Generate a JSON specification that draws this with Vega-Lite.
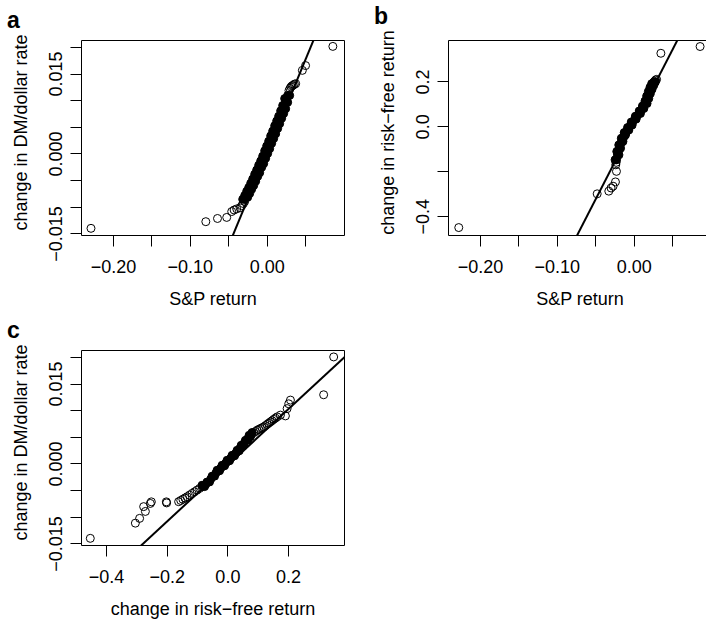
{
  "$schema": "https://vega.github.io/schema/vega-lite/v6.json",
  "padding": {"left": 6, "top": 5, "right": 0, "bottom": 0},
  "background": "white",
  "config": {
    "font": "Liberation Sans",
    "view": {"stroke": "black", "strokeWidth": 1},
    "axis": {
      "domain": false, "grid": false, "ticks": true, "tickColor": "black", "tickSize": 11, "tickWidth": 1,
      "labelColor": "black", "labelFontSize": 18, "labelFont": "Liberation Sans", "labelOverlap": false, "labelFlush": false,
      "titleColor": "black", "titleFontSize": 18, "titleFontWeight": "normal", "titleFont": "Liberation Sans"
    },
    "axisX": {"labelBaseline": "alphabetic", "labelPadding": 26, "titleBaseline": "alphabetic", "titleY": 69},
    "axisY": {"labelAngle": -90, "labelAlign": "center", "labelBaseline": "alphabetic", "labelPadding": 9, "titleAngle": -90, "titleBaseline": "alphabetic", "titleX": -55, "titleY": 92},
    "title": {"anchor": "start", "frame": "group", "dx": -74, "fontSize": 23, "fontWeight": "bold", "offset": 1, "color": "black"}
  },
  "datasets": {
    "qa_ring": [
      {"x": -0.2286, "y": -0.01405}, {"x": -0.0792, "y": -0.0128}, {"x": -0.0640, "y": -0.0122}, {"x": -0.0520, "y": -0.0120},
      {"x": -0.0455, "y": -0.0109}, {"x": -0.0424, "y": -0.0106}, {"x": -0.0390, "y": -0.0104}, {"x": -0.0346, "y": -0.0102},
      {"x": -0.0325, "y": -0.0098}, {"x": -0.0303, "y": -0.0094}, {"x": -0.0286, "y": -0.0090},
      {"x": 0.0290, "y": 0.0118}, {"x": 0.0303, "y": 0.0122}, {"x": 0.0316, "y": 0.0125}, {"x": 0.0330, "y": 0.0127},
      {"x": 0.0345, "y": 0.0128}, {"x": 0.0360, "y": 0.0130}, {"x": 0.0377, "y": 0.0131},
      {"x": 0.0464, "y": 0.0156}, {"x": 0.0506, "y": 0.0165}, {"x": 0.0861, "y": 0.0201}
    ],
    "qa_band": [
      {"x": -0.0312, "y": -0.0086}, {"x": -0.0247, "y": -0.0082}, {"x": -0.0286, "y": -0.0079}, {"x": -0.0221, "y": -0.0075},
      {"x": -0.0260, "y": -0.0071}, {"x": -0.0195, "y": -0.0067}, {"x": -0.0234, "y": -0.0064}, {"x": -0.0169, "y": -0.0060},
      {"x": -0.0208, "y": -0.0056}, {"x": -0.0143, "y": -0.0052}, {"x": -0.0182, "y": -0.0048}, {"x": -0.0117, "y": -0.0043},
      {"x": -0.0156, "y": -0.0039}, {"x": -0.0091, "y": -0.0036}, {"x": -0.0130, "y": -0.0031}, {"x": -0.0065, "y": -0.0026},
      {"x": -0.0104, "y": -0.0022}, {"x": -0.0039, "y": -0.0019}, {"x": -0.0078, "y": -0.0014}, {"x": -0.0013, "y": -0.0009},
      {"x": -0.0052, "y": -0.0005}, {"x": 0.0013, "y": 0.0000}, {"x": -0.0026, "y": 0.0005}, {"x": 0.0039, "y": 0.0009},
      {"x": 0.0000, "y": 0.0014}, {"x": 0.0065, "y": 0.0019}, {"x": 0.0026, "y": 0.0023}, {"x": 0.0091, "y": 0.0028},
      {"x": 0.0052, "y": 0.0033}, {"x": 0.0117, "y": 0.0037}, {"x": 0.0078, "y": 0.0042}, {"x": 0.0143, "y": 0.0047},
      {"x": 0.0104, "y": 0.0052}, {"x": 0.0169, "y": 0.0056}, {"x": 0.0130, "y": 0.0061}, {"x": 0.0195, "y": 0.0066},
      {"x": 0.0156, "y": 0.0070}, {"x": 0.0221, "y": 0.0075}, {"x": 0.0182, "y": 0.0080}, {"x": 0.0247, "y": 0.0084},
      {"x": 0.0208, "y": 0.0090}, {"x": 0.0273, "y": 0.0096}, {"x": 0.0234, "y": 0.0103}, {"x": 0.0299, "y": 0.0109},
      {"x": -0.0286, "y": -0.0086}, {"x": -0.0273, "y": -0.0082}, {"x": -0.0260, "y": -0.0079}, {"x": -0.0247, "y": -0.0075},
      {"x": -0.0234, "y": -0.0071}, {"x": -0.0221, "y": -0.0067}, {"x": -0.0208, "y": -0.0064}, {"x": -0.0195, "y": -0.0060},
      {"x": -0.0182, "y": -0.0056}, {"x": -0.0169, "y": -0.0052}, {"x": -0.0156, "y": -0.0048}, {"x": -0.0143, "y": -0.0043},
      {"x": -0.0130, "y": -0.0039}, {"x": -0.0117, "y": -0.0036}, {"x": -0.0104, "y": -0.0031}, {"x": -0.0091, "y": -0.0026},
      {"x": -0.0078, "y": -0.0022}, {"x": -0.0065, "y": -0.0019}, {"x": -0.0052, "y": -0.0014}, {"x": -0.0039, "y": -0.0009},
      {"x": -0.0026, "y": -0.0005}, {"x": -0.0013, "y": 0.0000}, {"x": 0.0000, "y": 0.0005}, {"x": 0.0013, "y": 0.0009},
      {"x": 0.0026, "y": 0.0014}, {"x": 0.0039, "y": 0.0019}, {"x": 0.0052, "y": 0.0023}, {"x": 0.0065, "y": 0.0028},
      {"x": 0.0078, "y": 0.0033}, {"x": 0.0091, "y": 0.0037}, {"x": 0.0104, "y": 0.0042}, {"x": 0.0117, "y": 0.0047},
      {"x": 0.0130, "y": 0.0052}, {"x": 0.0143, "y": 0.0056}, {"x": 0.0156, "y": 0.0061}, {"x": 0.0169, "y": 0.0066},
      {"x": 0.0182, "y": 0.0070}, {"x": 0.0195, "y": 0.0075}, {"x": 0.0208, "y": 0.0080}, {"x": 0.0221, "y": 0.0084},
      {"x": 0.0234, "y": 0.0090}, {"x": 0.0247, "y": 0.0096}, {"x": 0.0260, "y": 0.0103}, {"x": 0.0273, "y": 0.0109}
    ],
    "la": [{"x": -0.3, "y": -0.1047}, {"x": 0.2, "y": 0.0698}],
    "qb_ring": [
      {"x": -0.2276, "y": -0.450}, {"x": -0.0475, "y": -0.300}, {"x": -0.0324, "y": -0.288}, {"x": -0.0294, "y": -0.274},
      {"x": -0.0268, "y": -0.266}, {"x": -0.0237, "y": -0.247}, {"x": -0.0224, "y": -0.200}, {"x": -0.0233, "y": -0.1709},
      {"x": -0.0228, "y": -0.160}, {"x": 0.0272, "y": 0.2000}, {"x": 0.0285, "y": 0.2060}, {"x": 0.0298, "y": 0.2088},
      {"x": 0.0354, "y": 0.325}, {"x": 0.0864, "y": 0.355}
    ],
    "qb_band": [
      {"x": -0.0242, "y": -0.1488}, {"x": -0.0192, "y": -0.1267}, {"x": -0.0220, "y": -0.1117}, {"x": -0.0171, "y": -0.0971},
      {"x": -0.0194, "y": -0.0826}, {"x": -0.0140, "y": -0.0675}, {"x": -0.0161, "y": -0.0530}, {"x": -0.0107, "y": -0.0384},
      {"x": -0.0123, "y": -0.0274}, {"x": -0.0063, "y": -0.0163}, {"x": -0.0080, "y": -0.0053}, {"x": -0.0020, "y": 0.0057},
      {"x": -0.0032, "y": 0.0190}, {"x": 0.0032, "y": 0.0322}, {"x": 0.0022, "y": 0.0450}, {"x": 0.0088, "y": 0.0574},
      {"x": 0.0072, "y": 0.0684}, {"x": 0.0132, "y": 0.0795}, {"x": 0.0114, "y": 0.0905}, {"x": 0.0174, "y": 0.1015},
      {"x": 0.0147, "y": 0.1126}, {"x": 0.0196, "y": 0.1236}, {"x": 0.0169, "y": 0.1347}, {"x": 0.0217, "y": 0.1457},
      {"x": 0.0191, "y": 0.1554}, {"x": 0.0239, "y": 0.1647}, {"x": 0.0212, "y": 0.1735}, {"x": 0.0261, "y": 0.1823},
      {"x": 0.0234, "y": 0.1898}, {"x": 0.0282, "y": 0.1973},
      {"x": -0.0223, "y": -0.1488}, {"x": -0.0211, "y": -0.1267}, {"x": -0.0201, "y": -0.1117}, {"x": -0.0190, "y": -0.0971},
      {"x": -0.0175, "y": -0.0826}, {"x": -0.0159, "y": -0.0675}, {"x": -0.0142, "y": -0.0530}, {"x": -0.0126, "y": -0.0384},
      {"x": -0.0104, "y": -0.0274}, {"x": -0.0082, "y": -0.0163}, {"x": -0.0061, "y": -0.0053}, {"x": -0.0039, "y": 0.0057},
      {"x": -0.0013, "y": 0.0190}, {"x": 0.0013, "y": 0.0322}, {"x": 0.0041, "y": 0.0450}, {"x": 0.0069, "y": 0.0574},
      {"x": 0.0091, "y": 0.0684}, {"x": 0.0113, "y": 0.0795}, {"x": 0.0133, "y": 0.0905}, {"x": 0.0155, "y": 0.1015},
      {"x": 0.0166, "y": 0.1126}, {"x": 0.0177, "y": 0.1236}, {"x": 0.0188, "y": 0.1347}, {"x": 0.0198, "y": 0.1457},
      {"x": 0.0210, "y": 0.1554}, {"x": 0.0220, "y": 0.1647}, {"x": 0.0231, "y": 0.1735}, {"x": 0.0242, "y": 0.1823},
      {"x": 0.0253, "y": 0.1898}, {"x": 0.0263, "y": 0.1973}
    ],
    "lb": [{"x": -0.1, "y": -0.66}, {"x": 0.08, "y": 0.537}],
    "qc_ring": [
      {"x": -0.4514, "y": -0.01405}, {"x": -0.303, "y": -0.0112}, {"x": -0.289, "y": -0.0103}, {"x": -0.270, "y": -0.0090},
      {"x": -0.2757, "y": -0.0081}, {"x": -0.2537, "y": -0.0075}, {"x": -0.2504, "y": -0.0072}, {"x": -0.2010, "y": -0.0072},
      {"x": -0.2000, "y": -0.0074},
      {"x": -0.1605, "y": -0.00717}, {"x": -0.1536, "y": -0.00694}, {"x": -0.1466, "y": -0.00671}, {"x": -0.1397, "y": -0.00648},
      {"x": -0.1328, "y": -0.00624}, {"x": -0.1245, "y": -0.00593}, {"x": -0.1163, "y": -0.00562}, {"x": -0.1081, "y": -0.00531},
      {"x": -0.0998, "y": -0.00500}, {"x": -0.0916, "y": -0.00468}, {"x": -0.0834, "y": -0.00436},
      {"x": 0.0867, "y": 0.00577}, {"x": 0.0923, "y": 0.00600}, {"x": 0.0979, "y": 0.00624}, {"x": 0.1033, "y": 0.00640},
      {"x": 0.1087, "y": 0.00656}, {"x": 0.1141, "y": 0.00671}, {"x": 0.1196, "y": 0.00687}, {"x": 0.1252, "y": 0.00710},
      {"x": 0.1308, "y": 0.00734}, {"x": 0.1362, "y": 0.00757}, {"x": 0.1417, "y": 0.00781}, {"x": 0.1471, "y": 0.00804},
      {"x": 0.1526, "y": 0.00828}, {"x": 0.1582, "y": 0.00851}, {"x": 0.1638, "y": 0.00875}, {"x": 0.1746, "y": 0.00908},
      {"x": 0.1911, "y": 0.00893}, {"x": 0.1967, "y": 0.0103}, {"x": 0.2020, "y": 0.0112}, {"x": 0.2076, "y": 0.0119},
      {"x": 0.317, "y": 0.0129}, {"x": 0.350, "y": 0.0200}
    ],
    "qc_band": [
      {"x": -0.0834, "y": -0.00408}, {"x": -0.0751, "y": -0.00434}, {"x": -0.0669, "y": -0.00347}, {"x": -0.0587, "y": -0.00346},
      {"x": -0.0504, "y": -0.00238}, {"x": -0.0422, "y": -0.00238}, {"x": -0.0339, "y": -0.00127}, {"x": -0.0257, "y": -0.00137},
      {"x": -0.0175, "y": -0.00034}, {"x": -0.0092, "y": -0.00043}, {"x": -0.0010, "y": 0.00060}, {"x": 0.0072, "y": 0.00051},
      {"x": 0.0155, "y": 0.00153}, {"x": 0.0237, "y": 0.00144}, {"x": 0.0320, "y": 0.00247}, {"x": 0.0389, "y": 0.00238},
      {"x": 0.0455, "y": 0.00341}, {"x": 0.0527, "y": 0.00332}, {"x": 0.0593, "y": 0.00434}, {"x": 0.0675, "y": 0.00440},
      {"x": 0.0715, "y": 0.00528}, {"x": 0.0758, "y": 0.00502}, {"x": 0.0812, "y": 0.00581},
      {"x": -0.0792, "y": -0.00421}, {"x": -0.0710, "y": -0.00390}, {"x": -0.0628, "y": -0.00347}, {"x": -0.0546, "y": -0.00292},
      {"x": -0.0463, "y": -0.00238}, {"x": -0.0380, "y": -0.00183}, {"x": -0.0298, "y": -0.00132}, {"x": -0.0216, "y": -0.00085},
      {"x": -0.0133, "y": -0.00039}, {"x": -0.0051, "y": 0.00009}, {"x": 0.0031, "y": 0.00055}, {"x": 0.0114, "y": 0.00102},
      {"x": 0.0196, "y": 0.00149}, {"x": 0.0279, "y": 0.00195}, {"x": 0.0355, "y": 0.00243}, {"x": 0.0422, "y": 0.00290},
      {"x": 0.0491, "y": 0.00337}, {"x": 0.0560, "y": 0.00383}, {"x": 0.0634, "y": 0.00437}, {"x": 0.0695, "y": 0.00484},
      {"x": 0.0737, "y": 0.00515}, {"x": 0.0785, "y": 0.00541}
    ],
    "lc": [{"x": -0.5, "y": -0.0268}, {"x": 0.5, "y": 0.0260}]
  },
  "columns": 2,
  "spacing": {"row": 115, "column": 104},
  "bounds": "flush",
  "concat": [
    {
      "width": 263, "height": 195,
      "title": {"text": "a"},
      "encoding": {
        "x": {"field": "x", "type": "quantitative", "scale": {"domain": [-0.2416, 0.1006], "nice": false, "zero": false},
              "axis": {"values": [-0.2, -0.15, -0.1, -0.05, 0, 0.05], "format": ".2f", "labelExpr": "round(datum.value*100)%10==0 ? datum.label : ''", "title": "S&P return"}},
        "y": {"field": "y", "type": "quantitative", "scale": {"domain": [-0.0153, 0.0213], "nice": false, "zero": false},
              "axis": {"values": [-0.015, -0.01, -0.005, 0, 0.005, 0.01, 0.015, 0.02], "format": ".3f", "labelExpr": "round(datum.value*1000)%15==0 ? datum.label : ''", "title": "change in DM/dollar rate"}}
      },
      "layer": [
        {"data": {"name": "qa_band"}, "mark": {"type": "point", "shape": "circle", "filled": true, "color": "black", "stroke": "black", "strokeWidth": 1, "size": 64, "opacity": 1}},
        {"data": {"name": "qa_ring"}, "mark": {"type": "point", "shape": "circle", "filled": false, "stroke": "black", "strokeWidth": 1, "size": 64, "opacity": 1}},
        {"data": {"name": "la"}, "mark": {"type": "line", "color": "black", "strokeWidth": 2, "clip": true}}
      ]
    },
    {
      "width": 263, "height": 195,
      "title": {"text": "b"},
      "encoding": {
        "x": {"field": "x", "type": "quantitative", "scale": {"domain": [-0.2416, 0.1006], "nice": false, "zero": false},
              "axis": {"values": [-0.2, -0.15, -0.1, -0.05, 0, 0.05], "format": ".2f", "labelExpr": "round(datum.value*100)%10==0 ? datum.label : ''", "title": "S&P return"}},
        "y": {"field": "y", "type": "quantitative", "scale": {"domain": [-0.483, 0.384], "nice": false, "zero": false},
              "axis": {"values": [-0.4, -0.2, 0, 0.2], "format": ".1f", "labelExpr": "round(datum.value*10)==-2 ? '' : datum.label", "title": "change in risk−free return"}}
      },
      "layer": [
        {"data": {"name": "qb_band"}, "mark": {"type": "point", "shape": "circle", "filled": true, "color": "black", "stroke": "black", "strokeWidth": 1, "size": 64, "opacity": 1}},
        {"data": {"name": "qb_ring"}, "mark": {"type": "point", "shape": "circle", "filled": false, "stroke": "black", "strokeWidth": 1, "size": 64, "opacity": 1}},
        {"data": {"name": "lb"}, "mark": {"type": "line", "color": "black", "strokeWidth": 2, "clip": true}}
      ]
    },
    {
      "width": 263, "height": 195,
      "title": {"text": "c"},
      "encoding": {
        "x": {"field": "x", "type": "quantitative", "scale": {"domain": [-0.482, 0.384], "nice": false, "zero": false},
              "axis": {"values": [-0.4, -0.2, 0, 0.2], "format": ".1f", "title": "change in risk−free return"}},
        "y": {"field": "y", "type": "quantitative", "scale": {"domain": [-0.0153, 0.0213], "nice": false, "zero": false},
              "axis": {"values": [-0.015, -0.01, -0.005, 0, 0.005, 0.01, 0.015, 0.02], "format": ".3f", "labelExpr": "round(datum.value*1000)%15==0 ? datum.label : ''", "title": "change in DM/dollar rate"}}
      },
      "layer": [
        {"data": {"name": "qc_band"}, "mark": {"type": "point", "shape": "circle", "filled": true, "color": "black", "stroke": "black", "strokeWidth": 1, "size": 64, "opacity": 1}},
        {"data": {"name": "qc_ring"}, "mark": {"type": "point", "shape": "circle", "filled": false, "stroke": "black", "strokeWidth": 1, "size": 64, "opacity": 1}},
        {"data": {"name": "lc"}, "mark": {"type": "line", "color": "black", "strokeWidth": 2, "clip": true}}
      ]
    }
  ]
}
